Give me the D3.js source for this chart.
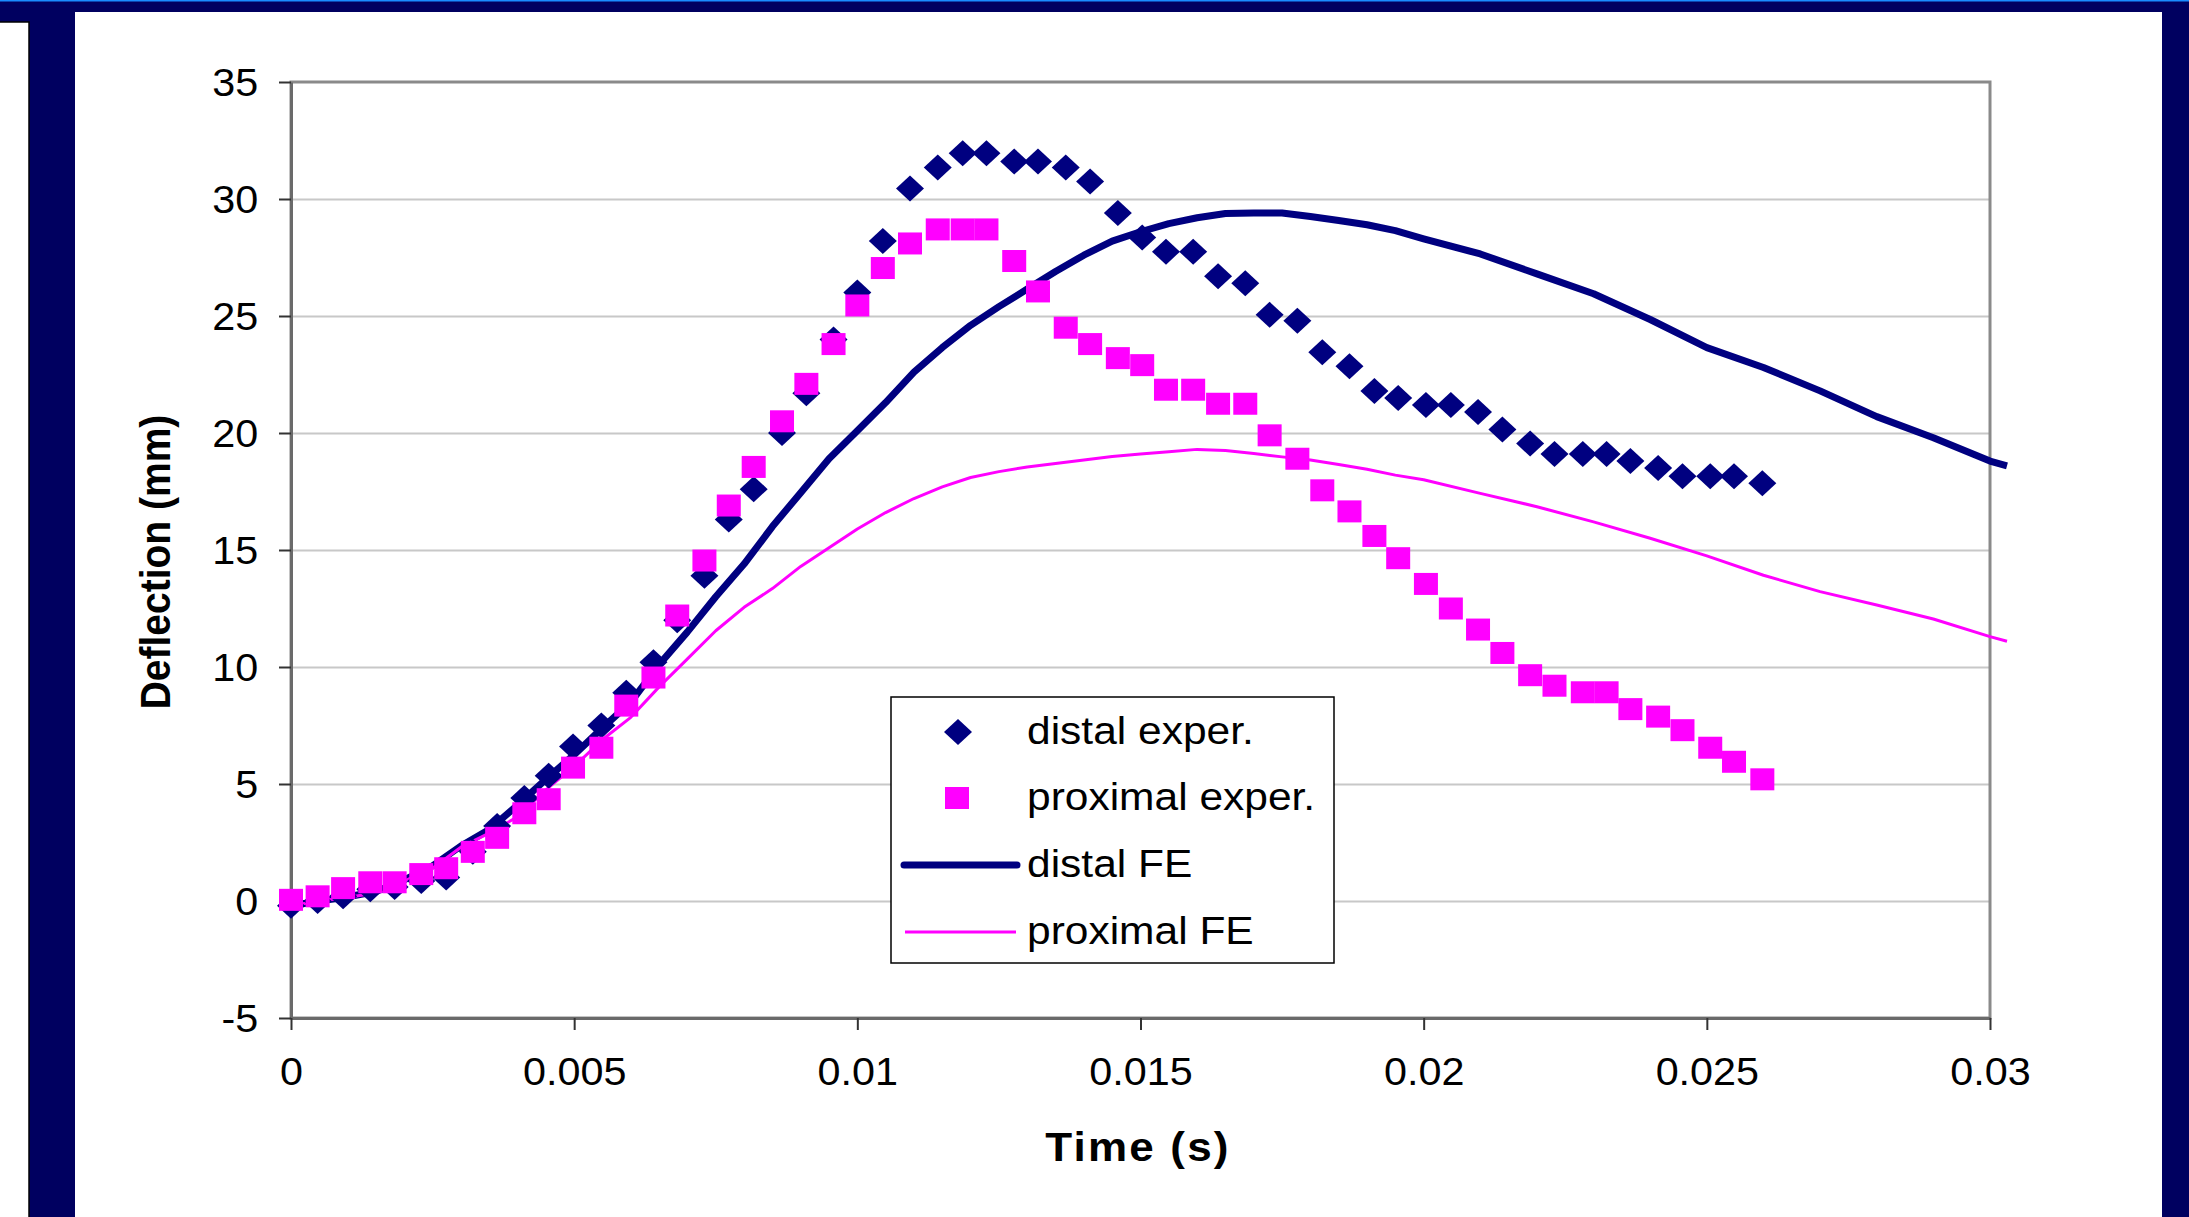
<!DOCTYPE html>
<html>
<head>
<meta charset="utf-8">
<script src="https://cdn.jsdelivr.net/npm/d3@7"></script>
<style>
  body { margin: 0; background: #000060; }
  svg { display: block; font-family: "Liberation Sans", Arial, sans-serif; }
</style>
</head>
<body>
<div id="chart"></div>
<script>
// experimental samples (s)
var expTime = [0, 0.00047, 0.00092, 0.0014, 0.00183, 0.0023, 0.00274, 0.00321, 0.00364, 0.00412,
  0.00455, 0.00498, 0.00548, 0.00592, 0.0064, 0.00682, 0.0073, 0.00773, 0.00817, 0.00867,
  0.0091, 0.00958, 0.01, 0.01045, 0.01093, 0.01142, 0.01186, 0.01228, 0.01277, 0.01319,
  0.01368, 0.01411, 0.0146, 0.01503, 0.01545, 0.01593, 0.01637, 0.01685, 0.01728, 0.01777,
  0.01821, 0.01869, 0.01913, 0.01955, 0.02004, 0.02048, 0.02096, 0.02139, 0.02188, 0.02231,
  0.02281, 0.02323, 0.02365, 0.02414, 0.02457, 0.02506, 0.02548, 0.02598];

var distalExp = [-0.2, 0.0, 0.2, 0.5, 0.6, 0.85, 1.0, 2.1, 3.2, 4.4,
  5.35, 6.6, 7.5, 8.9, 10.2, 12.0, 13.9, 16.3, 17.6, 20.0,
  21.7, 24.0, 26.0, 28.2, 30.45, 31.35, 31.95, 31.95, 31.6, 31.6,
  31.35, 30.75, 29.4, 28.35, 27.75, 27.75, 26.7, 26.4, 25.05, 24.8,
  23.45, 22.85, 21.8, 21.5, 21.2, 21.2, 20.9, 20.15, 19.55, 19.1,
  19.1, 19.1, 18.8, 18.5, 18.15, 18.15, 18.15, 17.85];

var proximalExp = [0.05, 0.2, 0.55, 0.8, 0.8, 1.15, 1.4, 2.1, 2.7, 3.75,
  4.35, 5.7, 6.55, 8.35, 9.55, 12.2, 14.55, 16.9, 18.55, 20.5,
  22.1, 23.8, 25.45, 27.05, 28.1, 28.7, 28.7, 28.7, 27.35, 26.05,
  24.5, 23.8, 23.2, 22.9, 21.85, 21.85, 21.25, 21.25, 19.9, 18.9,
  17.55, 16.65, 15.6, 14.65, 13.55, 12.5, 11.6, 10.6, 9.65, 9.2,
  8.92, 8.92, 8.2, 7.88, 7.3, 6.55, 5.95, 5.2];

// finite element curves
var feTime = [0, 0.0005, 0.001, 0.0015, 0.002, 0.0025, 0.003, 0.0035, 0.004, 0.0045,
  0.005, 0.0055, 0.006, 0.0065, 0.007, 0.0075, 0.008, 0.0085, 0.009, 0.0095,
  0.01, 0.0105, 0.011, 0.0115, 0.012, 0.0125, 0.013, 0.0135, 0.014, 0.0145,
  0.015, 0.0155, 0.016, 0.0165, 0.017, 0.0175, 0.018, 0.0185, 0.019, 0.0195,
  0.02, 0.021, 0.022, 0.023, 0.024, 0.025, 0.026, 0.027, 0.028, 0.029, 0.03, 0.0303];

var distalFE = [-0.2, 0.0, 0.18, 0.4, 0.9, 1.5, 2.35, 3.05, 4.1, 5.2,
  6.25, 7.4, 8.5, 10.1, 11.5, 13.0, 14.4, 16.0, 17.45, 18.9,
  20.1, 21.3, 22.6, 23.65, 24.6, 25.4, 26.15, 26.9, 27.6, 28.2,
  28.6, 28.95, 29.2, 29.38, 29.4, 29.4, 29.25, 29.08, 28.9, 28.65,
  28.3, 27.65, 26.8, 25.95, 24.85, 23.65, 22.8, 21.8, 20.7, 19.8, 18.8, 18.6];

var proximalFE = [-0.2, 0.0, 0.15, 0.35, 0.85, 1.4, 2.3, 2.9, 3.6, 4.75,
  5.75, 6.9, 7.85, 9.15, 10.35, 11.55, 12.55, 13.35, 14.3, 15.1,
  15.9, 16.6, 17.2, 17.7, 18.1, 18.35, 18.55, 18.7, 18.85, 19.0,
  19.1, 19.2, 19.3, 19.25, 19.12, 18.98, 18.85, 18.65, 18.45, 18.2,
  18.0, 17.42, 16.85, 16.2, 15.5, 14.75, 13.92, 13.22, 12.65, 12.05, 11.3, 11.1];

var yTicks = [-5, 0, 5, 10, 15, 20, 25, 30, 35];
var yTickLabels = ["-5", "0", "5", "10", "15", "20", "25", "30", "35"];
var xTicks = [0, 0.005, 0.01, 0.015, 0.02, 0.025, 0.03];
var xTickLabels = ["0", "0.005", "0.01", "0.015", "0.02", "0.025", "0.03"];
var legendLabels = ["distal exper.", "proximal exper.", "distal FE", "proximal FE"];

var navy = "#000080", magenta = "#ff00ff";
var width = 2189, height = 1217;
var plot = { left: 291, top: 82, right: 1990, bottom: 1018 };

var svg = d3.select("#chart").append("svg")
    .attr("width", width)
    .attr("height", height);

// slide frame
svg.append("rect").attr("width", width).attr("height", height).attr("fill", "#000060");
svg.append("rect").attr("width", width).attr("height", 1.5).attr("fill", "#1a8cff");
svg.append("rect").attr("x", -2).attr("y", 22).attr("width", 31).attr("height", height)
    .attr("fill", "#fff").attr("stroke", "#000").attr("stroke-width", 1.5);
svg.append("rect").attr("x", 75).attr("y", 12).attr("width", 2087).attr("height", height)
    .attr("fill", "#fff");

var x = d3.scaleLinear().domain([0, 0.03]).range([plot.left, plot.right]);
var y = d3.scaleLinear().domain([-5, 35]).range([plot.bottom, plot.top]);

// gridlines
svg.append("g")
    .attr("transform", "translate(" + plot.left + ",0)")
    .call(d3.axisLeft(y).tickValues(yTicks.slice(1, -1)).tickSize(-(plot.right - plot.left)).tickFormat(""))
    .call(function(g) {
      g.select(".domain").remove();
      g.selectAll("line").attr("stroke", "#c8c8c8").attr("stroke-width", 2);
    });

// plot frame (top / right)
svg.append("rect")
    .attr("x", plot.left).attr("y", plot.top)
    .attr("width", plot.right - plot.left).attr("height", plot.bottom - plot.top)
    .attr("fill", "none").attr("stroke", "#8a8a8a").attr("stroke-width", 3);

// axes
var yAxis = svg.append("g")
    .attr("transform", "translate(" + plot.left + ",0)")
    .call(d3.axisLeft(y).tickValues(yTicks).tickSize(12).tickSizeOuter(0)
      .tickFormat(function(d, i) { return yTickLabels[i]; }));
var xAxis = svg.append("g")
    .attr("transform", "translate(0," + plot.bottom + ")")
    .call(d3.axisBottom(x).tickValues(xTicks).tickSize(12).tickSizeOuter(0)
      .tickFormat(function(d, i) { return xTickLabels[i]; }));

[yAxis, xAxis].forEach(function(g) {
  g.select(".domain").attr("stroke", "#6a6a6a").attr("stroke-width", 3);
  g.selectAll(".tick line").attr("stroke", "#333").attr("stroke-width", 2);
  g.selectAll(".tick text").attr("fill", "#000").attr("font-size", 39)
      .attr("font-family", "Liberation Sans, Arial, sans-serif");
});
yAxis.selectAll(".tick text").attr("x", -31).attr("dy", 0).attr("y", 13)
    .attr("transform", "scale(1.06,1)");
xAxis.selectAll(".tick text").attr("y", 67).attr("dy", 0)
    .attr("transform", "scale(1.06,1)");

// axis titles
svg.append("text")
    .attr("transform", "translate(1138,1161) scale(1.1,1)")
    .attr("text-anchor", "middle")
    .attr("font-size", 40).attr("font-weight", "bold").attr("letter-spacing", 2)
    .text("Time (s)");
svg.append("text")
    .attr("transform", "translate(170,562) scale(1.1,1) rotate(-90)")
    .attr("text-anchor", "middle")
    .attr("font-size", 39).attr("font-weight", "bold")
    .text("Deflection (mm)");

// FE lines
var line = d3.line()
    .x(function(d) { return x(d[0]); })
    .y(function(d) { return y(d[1]); });

svg.append("path")
    .datum(d3.zip(feTime, distalFE))
    .attr("d", line)
    .attr("fill", "none").attr("stroke", navy).attr("stroke-width", 7)
    .attr("stroke-linejoin", "round");
svg.append("path")
    .datum(d3.zip(feTime, proximalFE))
    .attr("d", line)
    .attr("fill", "none").attr("stroke", magenta).attr("stroke-width", 3)
    .attr("stroke-linejoin", "round");

// markers
var diamond = "M0,-13L14,0L0,13L-14,0Z";

svg.append("g").selectAll("path")
    .data(d3.zip(expTime, distalExp))
  .enter().append("path")
    .attr("d", diamond)
    .attr("transform", function(d) { return "translate(" + x(d[0]) + "," + y(d[1]) + ")"; })
    .attr("fill", navy);

svg.append("g").selectAll("rect")
    .data(d3.zip(expTime, proximalExp))
  .enter().append("rect")
    .attr("x", function(d) { return x(d[0]) - 12; })
    .attr("y", function(d) { return y(d[1]) - 11; })
    .attr("width", 24).attr("height", 22)
    .attr("fill", magenta);

// legend
var legend = svg.append("g");
legend.append("rect")
    .attr("x", 891).attr("y", 697).attr("width", 443).attr("height", 266)
    .attr("fill", "#fff").attr("stroke", "#000").attr("stroke-width", 1.5);

var rowY = [732, 798, 865, 932];
legend.append("path").attr("d", diamond)
    .attr("transform", "translate(958," + rowY[0] + ")").attr("fill", navy);
legend.append("rect").attr("x", 945).attr("y", rowY[1] - 11).attr("width", 24).attr("height", 22)
    .attr("fill", magenta);
legend.append("line").attr("x1", 904).attr("x2", 1017).attr("y1", rowY[2]).attr("y2", rowY[2])
    .attr("stroke", navy).attr("stroke-width", 7).attr("stroke-linecap", "round");
legend.append("line").attr("x1", 905).attr("x2", 1016).attr("y1", rowY[3]).attr("y2", rowY[3])
    .attr("stroke", magenta).attr("stroke-width", 3);

legend.selectAll("text.lab")
    .data(legendLabels)
  .enter().append("text")
    .attr("class", "lab")
    .attr("transform", function(d, i) { return "translate(1027," + (rowY[i] + 12) + ") scale(1.09,1)"; })
    .attr("font-size", 39)
    .text(function(d) { return d; });
</script>
</body>
</html>
